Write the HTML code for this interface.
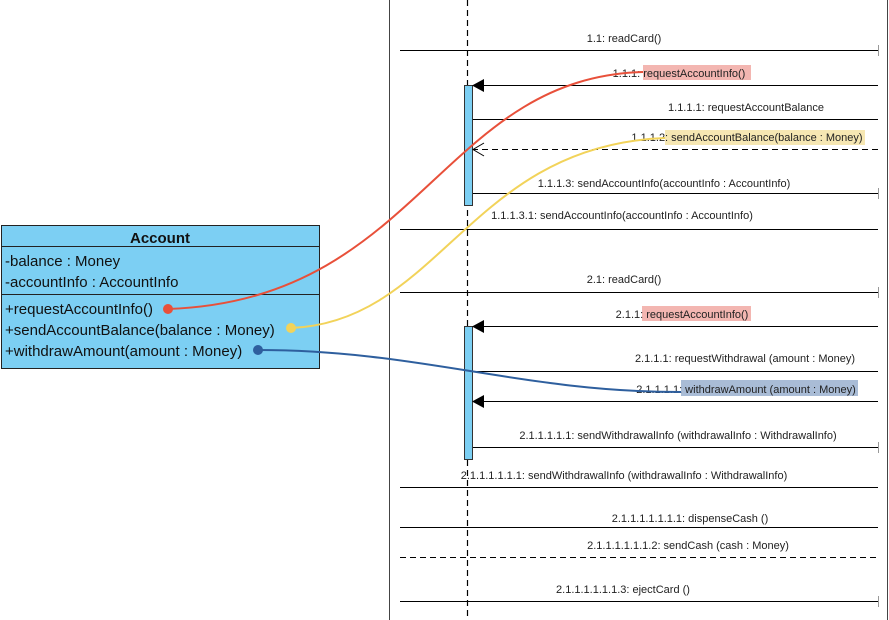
<!DOCTYPE html>
<html><head><meta charset="utf-8"><style>
html,body{margin:0;padding:0;background:#fff;}
svg{display:block;}
text{font-family:"Liberation Sans",sans-serif;}
</style></head><body>
<svg width="889" height="620" viewBox="0 0 889 620" xmlns="http://www.w3.org/2000/svg">
<rect width="889" height="620" fill="#fff"/>
<line x1="389.5" y1="0" x2="389.5" y2="620" stroke="#444" stroke-width="1"/>
<line x1="887.5" y1="0" x2="887.5" y2="620" stroke="#444" stroke-width="1"/>
<line x1="467.5" y1="0" x2="467.5" y2="620" stroke="#000" stroke-width="1.2" stroke-dasharray="6,4"/>
<g stroke="#000" stroke-width="1">
<line x1="400" y1="50.5" x2="878" y2="50.5"/>
<line x1="472" y1="85.5" x2="878" y2="85.5"/>
<line x1="472" y1="119.5" x2="878" y2="119.5"/>
<line x1="472" y1="149.5" x2="878" y2="149.5" stroke-dasharray="6,4"/>
<line x1="472" y1="193.5" x2="878" y2="193.5"/>
<line x1="400" y1="229.5" x2="878" y2="229.5"/>
<line x1="400" y1="292.5" x2="878" y2="292.5"/>
<line x1="472" y1="326.5" x2="878" y2="326.5"/>
<line x1="472" y1="371.5" x2="878" y2="371.5"/>
<line x1="472" y1="401.5" x2="878" y2="401.5"/>
<line x1="472" y1="447.5" x2="878" y2="447.5"/>
<line x1="400" y1="487.5" x2="878" y2="487.5"/>
<line x1="400" y1="527.5" x2="878" y2="527.5"/>
<line x1="400" y1="557.5" x2="878" y2="557.5" stroke-dasharray="6,4"/>
<line x1="400" y1="601.5" x2="878" y2="601.5"/>
<line x1="878.5" y1="45" x2="878.5" y2="56" stroke="#999"/>
<line x1="878.5" y1="188" x2="878.5" y2="199" stroke="#999"/>
<line x1="878.5" y1="287" x2="878.5" y2="298" stroke="#999"/>
<line x1="878.5" y1="442" x2="878.5" y2="453" stroke="#999"/>
<line x1="878.5" y1="596" x2="878.5" y2="607" stroke="#999"/>
</g>
<rect x="464.5" y="85.5" width="8" height="120" fill="#7ccff3" stroke="#333"/>
<rect x="464.5" y="326.5" width="8" height="133" fill="#7ccff3" stroke="#333"/>
<polygon points="472,85.5 484,79 484,92" fill="#000"/>
<polygon points="472,326.5 484,320 484,333" fill="#000"/>
<polygon points="472,401.5 484,395 484,408" fill="#000"/>
<polyline points="484,143 473,149.5 484,156" fill="none" stroke="#000"/>
<rect x="643" y="65" width="108" height="15" fill="#f3b6b1"/>
<rect x="665" y="130" width="200" height="15" fill="#f6e7b3"/>
<rect x="642" y="306" width="109" height="15" fill="#f3b6b1"/>
<rect x="681" y="380" width="177" height="16" fill="#a9bcd6"/>
<g font-size="11" fill="#222" text-anchor="middle">
<text x="624" y="42">1.1: readCard()</text>
<text x="679" y="77">1.1.1: requestAccountInfo()</text>
<text x="746" y="111">1.1.1.1: requestAccountBalance</text>
<text x="747" y="141">1.1.1.2: sendAccountBalance(balance : Money)</text>
<text x="664" y="187">1.1.1.3: sendAccountInfo(accountInfo : AccountInfo)</text>
<text x="622" y="219">1.1.1.3.1: sendAccountInfo(accountInfo : AccountInfo)</text>
<text x="624" y="283">2.1: readCard()</text>
<text x="682" y="318">2.1.1: requestAccountInfo()</text>
<text x="745" y="362">2.1.1.1: requestWithdrawal (amount : Money)</text>
<text x="746" y="393">2.1.1.1.1: withdrawAmount (amount : Money)</text>
<text x="678" y="439">2.1.1.1.1.1: sendWithdrawalInfo (withdrawalInfo : WithdrawalInfo)</text>
<text x="624" y="479">2.1.1.1.1.1.1: sendWithdrawalInfo (withdrawalInfo : WithdrawalInfo)</text>
<text x="690" y="522">2.1.1.1.1.1.1.1: dispenseCash ()</text>
<text x="688" y="549">2.1.1.1.1.1.1.2: sendCash (cash : Money)</text>
<text x="623" y="593">2.1.1.1.1.1.1.3: ejectCard ()</text>
</g>
<rect x="1.5" y="225.5" width="318" height="143" fill="#7ccff3" stroke="#222"/>
<line x1="1.5" y1="246.5" x2="319.5" y2="246.5" stroke="#222"/>
<line x1="1.5" y1="294.5" x2="319.5" y2="294.5" stroke="#222"/>
<g font-size="15" fill="#111">
<text x="160" y="243" text-anchor="middle" font-weight="bold">Account</text>
<text x="5" y="266">-balance : Money</text>
<text x="5" y="287">-accountInfo : AccountInfo</text>
<text x="5" y="314">+requestAccountInfo()</text>
<text x="5" y="335">+sendAccountBalance(balance : Money)</text>
<text x="5" y="356">+withdrawAmount(amount : Money)</text>
</g>
<path d="M168,309 C420,300 440,78 643,72" fill="none" stroke="#e8503a" stroke-width="2"/>
<path d="M291,328 C440,322 470,145 665,138" fill="none" stroke="#f2d35a" stroke-width="2"/>
<path d="M258,350 C420,350 520,392 681,392" fill="none" stroke="#2e5f9e" stroke-width="2"/>
<circle cx="168" cy="309" r="5" fill="#e8503a"/>
<circle cx="291" cy="328" r="5" fill="#f2d35a"/>
<circle cx="258" cy="350" r="5" fill="#2e5f9e"/>
</svg>
</body></html>
